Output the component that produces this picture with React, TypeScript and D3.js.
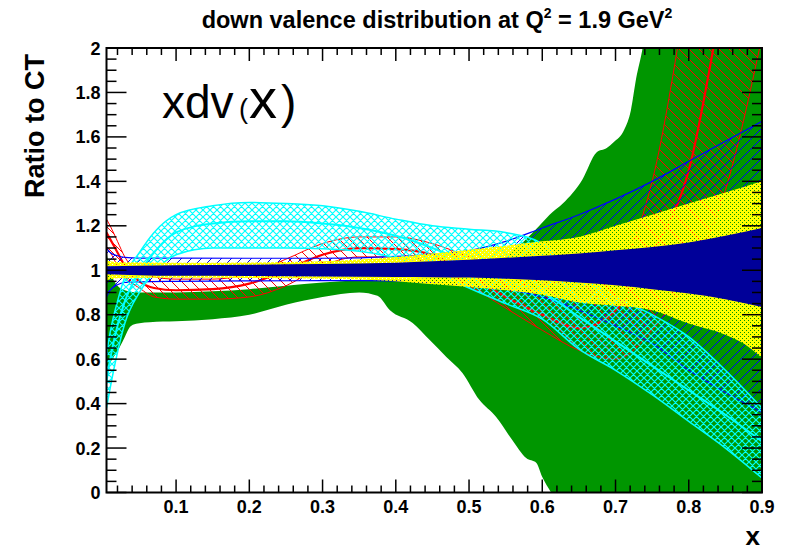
import React from 'react';
import * as d3 from 'd3';

const W = 785;
const H = 552;
const FRAME = { left: 106.5, right: 762, top: 48, bottom: 492.5 };
const FONT = '"Liberation Sans", Arial, Helvetica, sans-serif';

// Axis ticks
const xMajor = [0.1, 0.2, 0.3, 0.4, 0.5, 0.6, 0.7, 0.8, 0.9];
const yMajor = [0, 0.2, 0.4, 0.6, 0.8, 1, 1.2, 1.4, 1.6, 1.8, 2];
const xTickLabels = ['0.1', '0.2', '0.3', '0.4', '0.5', '0.6', '0.7', '0.8', '0.9'];
const yTickLabels = ['0', '0.2', '0.4', '0.6', '0.8', '1', '1.2', '1.4', '1.6', '1.8', '2'];

// Green solid band (separate grids for the two edges)
const grnLoX = [0.005, 0.01, 0.014, 0.02, 0.024, 0.03, 0.035, 0.041, 0.05, 0.064, 0.1, 0.15, 0.2, 0.25, 0.3, 0.35, 0.375, 0.392, 0.423, 0.446, 0.469, 0.491, 0.514, 0.537, 0.559, 0.578, 0.592, 0.6, 0.612, 0.63, 0.9];
const grnLo = [0.56, 0.585, 0.605, 0.635, 0.66, 0.7, 0.735, 0.755, 0.762, 0.766, 0.77, 0.78, 0.8, 0.845, 0.88, 0.9, 0.885, 0.82, 0.763, 0.687, 0.61, 0.538, 0.417, 0.34, 0.236, 0.155, 0.133, 0.07, 0.0, -0.1, -1];
const grnHiX = [0.005, 0.01, 0.02, 0.03, 0.05, 0.1, 0.15, 0.2, 0.25, 0.3, 0.35, 0.4, 0.45, 0.5, 0.52, 0.55, 0.575, 0.596, 0.61, 0.628, 0.655, 0.674, 0.688, 0.697, 0.712, 0.721, 0.728, 0.737, 0.75, 0.8, 0.9];
const grnHi = [1.08, 1.0, 0.93, 0.91, 0.9, 0.9, 0.905, 0.915, 0.93, 0.945, 0.955, 0.96, 0.965, 0.98, 1.0, 1.06, 1.13, 1.2, 1.25, 1.3, 1.41, 1.53, 1.55, 1.575, 1.633, 1.72, 1.86, 2.0, 2.3, 3.0, 3.5];

// Red hatched band
const redX = [0.005, 0.01, 0.02, 0.03, 0.05, 0.07, 0.1, 0.15, 0.2, 0.25, 0.3, 0.35, 0.4, 0.45, 0.5, 0.55, 0.6, 0.65, 0.7, 0.75, 0.8, 0.85, 0.9];
const redHi = [1.23, 1.2, 1.13, 1.06, 0.99, 0.97, 0.96, 0.96, 0.985, 1.05, 1.12, 1.15, 1.15, 1.12, 1.06, 1.0, 0.95, 0.94, 1.0, 1.4, 2.3, 3.3, 4.3];
const redMid = [1.17, 1.14, 1.08, 1.02, 0.95, 0.92, 0.91, 0.915, 0.94, 1.0, 1.07, 1.1, 1.095, 1.07, 0.98, 0.88, 0.8, 0.74, 0.82, 1.08, 1.45, 2.3, 3.2];
const redLo = [1.1, 1.08, 1.02, 0.97, 0.92, 0.88, 0.87, 0.87, 0.88, 0.93, 1.02, 1.06, 1.06, 1.0, 0.93, 0.83, 0.73, 0.64, 0.6, 0.73, 0.98, 1.36, 2.05];

// Blue hatched band
const bluX = [0.005, 0.01, 0.02, 0.03, 0.05, 0.1, 0.2, 0.3, 0.35, 0.4, 0.45, 0.5, 0.55, 0.6, 0.65, 0.7, 0.75, 0.8, 0.85, 0.9];
const bluHi = [1.1, 1.08, 1.065, 1.058, 1.055, 1.055, 1.054, 1.054, 1.056, 1.062, 1.072, 1.088, 1.13, 1.19, 1.25, 1.32, 1.4, 1.49, 1.58, 1.67];
const bluLo = [0.88, 0.91, 0.935, 0.945, 0.948, 0.95, 0.952, 0.953, 0.953, 0.952, 0.945, 0.933, 0.915, 0.88, 0.82, 0.75, 0.67, 0.55, 0.45, 0.36];

// Cyan cross-hatched band
const cyaX = [0.005, 0.01, 0.02, 0.03, 0.05, 0.07, 0.1, 0.15, 0.2, 0.25, 0.3, 0.35, 0.4, 0.45, 0.5, 0.55, 0.6, 0.65, 0.7, 0.75, 0.8, 0.85, 0.9];
const cyaHi = [0.62, 0.72, 0.86, 0.97, 1.08, 1.17, 1.25, 1.29, 1.305, 1.3, 1.29, 1.265, 1.23, 1.2, 1.185, 1.17, 1.12, 0.98, 0.88, 0.8, 0.7, 0.55, 0.38];
const cyaMid = [0.5, 0.6, 0.75, 0.86, 0.99, 1.08, 1.17, 1.21, 1.22, 1.22, 1.21, 1.19, 1.155, 1.1, 1.03, 0.95, 0.9, 0.79, 0.68, 0.57, 0.46, 0.35, 0.23];
const cyaLo = [0.38, 0.47, 0.63, 0.76, 0.9, 0.99, 1.07, 1.1, 1.1, 1.1, 1.097, 1.085, 1.055, 1.0, 0.92, 0.85, 0.78, 0.645, 0.55, 0.44, 0.32, 0.2, 0.065];

// Yellow dotted band
const yelX = [0.005, 0.02, 0.1, 0.2, 0.3, 0.35, 0.4, 0.45, 0.5, 0.55, 0.6, 0.65, 0.7, 0.75, 0.8, 0.85, 0.875, 0.9];
const yelHi = [1.045, 1.036, 1.034, 1.035, 1.04, 1.048, 1.06, 1.075, 1.092, 1.11, 1.13, 1.15, 1.2, 1.25, 1.3, 1.35, 1.375, 1.4];
const yelLo = [0.955, 0.964, 0.966, 0.965, 0.962, 0.958, 0.95, 0.937, 0.925, 0.91, 0.89, 0.855, 0.84, 0.82, 0.76, 0.71, 0.67, 0.605];

// Navy solid band (reference set)
const ctX = [0.005, 0.05, 0.1, 0.2, 0.3, 0.4, 0.45, 0.5, 0.55, 0.6, 0.65, 0.7, 0.75, 0.8, 0.85, 0.9];
const ctHi = [1.018, 1.02, 1.022, 1.025, 1.028, 1.034, 1.04, 1.047, 1.056, 1.065, 1.075, 1.09, 1.105, 1.125, 1.155, 1.19];
const ctLo = [0.982, 0.978, 0.975, 0.974, 0.972, 0.97, 0.969, 0.967, 0.962, 0.955, 0.945, 0.932, 0.915, 0.895, 0.87, 0.835];

const GREEN = '#009600';
const NAVY = '#000099';
const YELLOW = '#ffff00';
const CYAN = '#00ffff';
const RED = '#ff0000';
const BLUE = '#0000ff';

export default function App() {
  const xs = d3.scaleLinear().domain([0.005, 0.9]).range([FRAME.left, FRAME.right]);
  const ys = d3.scaleLinear().domain([0, 2]).range([FRAME.bottom, FRAME.top]);

  const band = (x: number[], lo: number[], hi: number[]) =>
    d3
      .area<number>()
      .x((_, i) => xs(x[i]))
      .y0((_, i) => ys(lo[i]))
      .y1((_, i) => ys(hi[i]))
      .curve(d3.curveMonotoneX)(x) as string;

  const line = (x: number[], v: number[]) =>
    d3
      .line<number>()
      .x((_, i) => xs(x[i]))
      .y((_, i) => ys(v[i]))
      .curve(d3.curveMonotoneX)(x) as string;

  // green band: upper edge left-to-right, lower edge right-to-left
  const greenPath = (() => {
    const gen = d3
      .line<[number, number]>()
      .x((d) => xs(d[0]))
      .y((d) => ys(d[1]))
      .curve(d3.curveMonotoneX);
    const up = gen(grnHiX.map((x, i) => [x, grnHi[i]] as [number, number])) as string;
    const low = gen(grnLoX.map((x, i) => [x, grnLo[i]] as [number, number]).reverse()) as string;
    return up + 'L' + low.slice(1) + 'Z';
  })();

  const xMinor = d3
    .range(1, 46)
    .map((i) => i * 0.02)
    .filter((v) => v <= 0.9001 && Math.abs(v * 10 - Math.round(v * 10)) > 1e-6);
  const yMinor = d3
    .range(0, 41)
    .map((i) => i * 0.05)
    .filter((v) => Math.abs(v * 5 - Math.round(v * 5)) > 1e-6);

  return (
    <svg width={W} height={H} style={{ position: 'absolute', left: 0, top: 0, background: '#fff' }} fontFamily={FONT}>
      <defs>
        <clipPath id="frameClip">
          <rect x={FRAME.left} y={FRAME.top} width={FRAME.right - FRAME.left} height={FRAME.bottom - FRAME.top} />
        </clipPath>
        <pattern id="hatchRed" patternUnits="userSpaceOnUse" width={10} height={10}>
          <path d="M-2,-2 L12,12 M-7,3 L3,13 M3,-7 L13,3" stroke={RED} strokeWidth={1} />
        </pattern>
        <pattern id="hatchBlue" patternUnits="userSpaceOnUse" width={10} height={10}>
          <path d="M-2,12 L12,-2 M-7,7 L3,-3 M7,13 L13,7" stroke={BLUE} strokeWidth={1} />
        </pattern>
        <pattern id="crossCyan" patternUnits="userSpaceOnUse" width={7} height={7}>
          <path d="M-1,-1 L8,8 M-1,8 L8,-1 M-4.5,2.5 L2.5,9.5 M4.5,-2.5 L11.5,4.5 M-4.5,4.5 L2.5,-2.5 M4.5,9.5 L11.5,2.5" stroke={CYAN} strokeWidth={1.2} />
        </pattern>
        <pattern id="dotsYellow" patternUnits="userSpaceOnUse" width={4} height={4}>
          <path d="M0,0h4v4h-4z M0,0h1v1h-1z M2,2h1v1h-1z" fill={YELLOW} fillRule="evenodd" />
        </pattern>
      </defs>

      <g clipPath="url(#frameClip)">
        {/* green */}
        <path d={greenPath} fill={GREEN} />

        {/* red */}
        <path d={band(redX, redLo, redHi)} fill="url(#hatchRed)" />
        <path d={line(redX, redHi)} fill="none" stroke={RED} strokeWidth={1} />
        <path d={line(redX, redLo)} fill="none" stroke={RED} strokeWidth={1} />
        <path d={line(redX, redMid)} fill="none" stroke={RED} strokeWidth={2.2} />

        {/* blue */}
        <path d={band(bluX, bluLo, bluHi)} fill="url(#hatchBlue)" />
        <path d={line(bluX, bluHi)} fill="none" stroke={BLUE} strokeWidth={1.2} />
        <path d={line(bluX, bluLo)} fill="none" stroke={BLUE} strokeWidth={1.2} />

        {/* cyan */}
        <path d={band(cyaX, cyaLo, cyaHi)} fill="url(#crossCyan)" />
        <path d={line(cyaX, cyaHi)} fill="none" stroke={CYAN} strokeWidth={1.5} />
        <path d={line(cyaX, cyaLo)} fill="none" stroke={CYAN} strokeWidth={1.5} />
        <path d={line(cyaX, cyaMid)} fill="none" stroke={CYAN} strokeWidth={2} />

        {/* yellow */}
        <path d={band(yelX, yelLo, yelHi)} fill="url(#dotsYellow)" />

        {/* navy */}
        <path d={band(ctX, ctLo, ctHi)} fill={NAVY} />
      </g>

      {/* ticks */}
      <g stroke="#000" strokeWidth={1.5}>
        {xMajor.map((v) => (
          <g key={'xM' + v}>
            <line x1={xs(v)} x2={xs(v)} y1={FRAME.bottom} y2={FRAME.bottom - 13} />
            <line x1={xs(v)} x2={xs(v)} y1={FRAME.top} y2={FRAME.top + 13} />
          </g>
        ))}
        {xMinor.map((v) => (
          <g key={'xm' + v}>
            <line x1={xs(v)} x2={xs(v)} y1={FRAME.bottom} y2={FRAME.bottom - 7} />
            <line x1={xs(v)} x2={xs(v)} y1={FRAME.top} y2={FRAME.top + 7} />
          </g>
        ))}
        {yMajor.map((v) => (
          <g key={'yM' + v}>
            <line x1={FRAME.left} x2={FRAME.left + 20} y1={ys(v)} y2={ys(v)} />
            <line x1={FRAME.right} x2={FRAME.right - 20} y1={ys(v)} y2={ys(v)} />
          </g>
        ))}
        {yMinor.map((v) => (
          <g key={'ym' + v}>
            <line x1={FRAME.left} x2={FRAME.left + 10} y1={ys(v)} y2={ys(v)} />
            <line x1={FRAME.right} x2={FRAME.right - 10} y1={ys(v)} y2={ys(v)} />
          </g>
        ))}
      </g>

      {/* frame */}
      <rect
        x={FRAME.left}
        y={FRAME.top}
        width={FRAME.right - FRAME.left}
        height={FRAME.bottom - FRAME.top}
        fill="none"
        stroke="#000"
        strokeWidth={2}
      />

      {/* tick labels */}
      <g fontWeight="bold" fontSize={18} fill="#000">
        {xMajor.map((v, i) => (
          <text key={'xl' + v} x={xs(v)} y={513} textAnchor="middle">
            {xTickLabels[i]}
          </text>
        ))}
        {yMajor.map((v, i) => (
          <text key={'yl' + v} x={100.5} y={ys(v) + 6.5} textAnchor="end">
            {yTickLabels[i]}
          </text>
        ))}
      </g>

      {/* title */}
      <text x={437} y={28} textAnchor="middle" fontWeight="bold" fontSize={23.5} fill="#000">
        down valence distribution at Q
        <tspan dy={-10} fontSize={14}>2</tspan>
        <tspan dy={10}> = 1.9 GeV</tspan>
        <tspan dy={-10} fontSize={14}>2</tspan>
      </text>

      {/* axis titles */}
      <text x={760} y={545} textAnchor="end" fontWeight="bold" fontSize={26} fill="#000">
        x
      </text>
      <text transform="translate(44,54) rotate(-90)" textAnchor="end" fontWeight="bold" fontSize={27} fill="#000">
        Ratio to CT
      </text>

      {/* in-frame label */}
      <text y={118} fontSize={46} fill="#000">
        <tspan x={162}>xdv</tspan>
        <tspan x={239} fontSize={27}>(</tspan>
        <tspan x={249} fontSize={56}>x</tspan>
        <tspan x={281}>)</tspan>
      </text>
    </svg>
  );
}
